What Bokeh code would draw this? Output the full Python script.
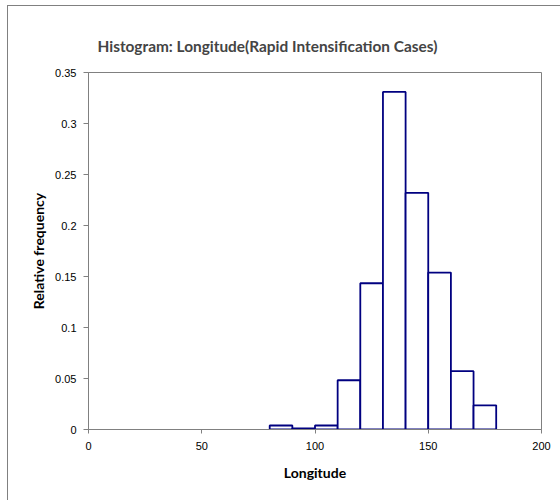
from bokeh.plotting import figure
from bokeh.models import Range1d, FixedTicker, ColumnDataSource
from bokeh.embed import file_html
from bokeh.resources import INLINE

# data
bin_left = [80, 90, 100, 110, 120, 130, 140, 150, 160, 170]
bin_right = [90, 100, 110, 120, 130, 140, 150, 160, 170, 180]
rel_freq = [0.0039, 0.0012, 0.0039, 0.0483, 0.1434, 0.331, 0.232, 0.1538, 0.0572, 0.0237]
x_ticks = [0, 50, 100, 150, 200]
x_tick_labels = ["0", "50", "100", "150", "200"]
y_ticks = [0, 0.05, 0.1, 0.15, 0.2, 0.25, 0.3, 0.35]
y_tick_labels = ["0", "0.05", "0.1", "0.15", "0.2", "0.25", "0.3", "0.35"]

src = ColumnDataSource(dict(left=bin_left, right=bin_right, top=rel_freq,
                            bottom=[0] * len(rel_freq)))

p = figure(width=553, height=495, output_backend="svg", toolbar_location=None,
           x_range=Range1d(0, 200), y_range=Range1d(0, 0.35),
           min_border_left=80, min_border_right=20, min_border_top=66, min_border_bottom=72)
p.margin = (5, 0, 0, 7)
p.styles = {"border-left": "1px solid #808080", "border-top": "1px solid #808080",
            "box-sizing": "border-box"}

p.title.text = "Histogram: Longitude(Rapid Intensification Cases)"
p.title.text_font = "Lato"
p.title.text_font_style = "bold"
p.title.text_font_size = "15.4px"
p.title.align = "left"
p.title.vertical_align = "top"
p.title.offset = 9
p.title.standoff = 32

p.quad(left="left", right="right", top="top", bottom="bottom", source=src,
       fill_color="white", line_color="#000080", line_width=1.8)

p.xgrid.visible = False
p.ygrid.visible = False
p.outline_line_color = "#808080"
p.outline_line_width = 1
p.background_fill_color = "white"
p.border_fill_color = "white"

for ax in (p.xaxis[0], p.yaxis[0]):
    ax.axis_line_color = "#808080"
    ax.major_tick_line_color = "#808080"
    ax.minor_tick_line_color = None
    ax.major_label_text_font = "Liberation Sans"
    ax.major_label_text_font_size = "11px"
    ax.major_label_text_color = "black"
    ax.axis_label_text_font = "Lato"
    ax.axis_label_text_font_style = "bold"
    ax.axis_label_text_font_size = "14px"
    ax.axis_label_text_color = "black"

p.xaxis.ticker = FixedTicker(ticks=x_ticks)
p.xaxis.major_label_overrides = {t: s for t, s in zip(x_ticks, x_tick_labels)}
p.xaxis.major_tick_out = 4
p.xaxis.major_tick_in = 0
p.xaxis.major_label_standoff = 8
p.xaxis.axis_label = "Longitude"
p.xaxis.axis_label_standoff = 11

p.yaxis.ticker = FixedTicker(ticks=y_ticks)
p.yaxis.major_label_overrides = {t: s for t, s in zip(y_ticks, y_tick_labels)}
p.yaxis.major_tick_out = 5
p.yaxis.major_tick_in = 0
p.yaxis.major_label_standoff = 7
p.yaxis.axis_label = "Relative frequency"
p.yaxis.axis_label_standoff = 5

open("out.html", "w").write(file_html(p, INLINE))
